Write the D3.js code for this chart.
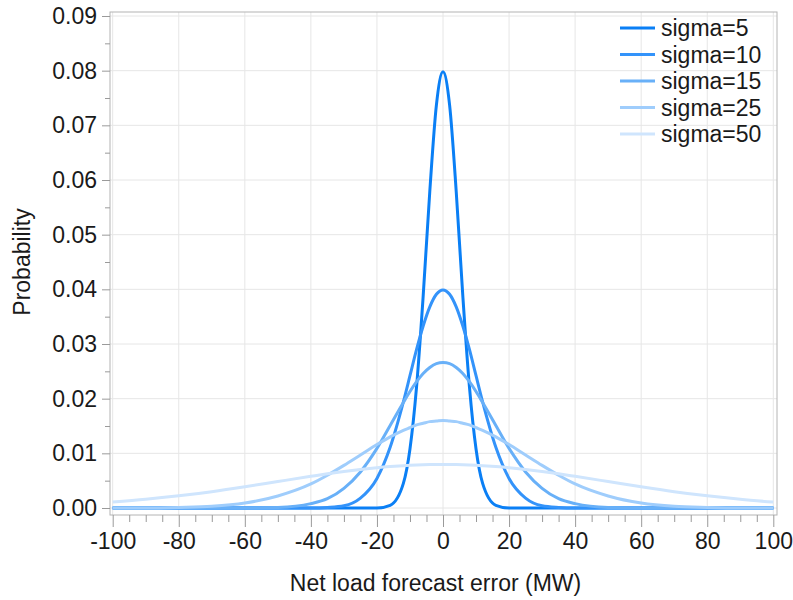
<!DOCTYPE html>
<html>
<head>
<meta charset="utf-8">
<script src="https://d3js.org/d3.v7.min.js"></script>
<style>
  body { margin: 0; background: #fff; }
  text { font-family: "Liberation Sans", Arial, sans-serif; fill: #1a1a1a; }
</style>
</head>
<body>
<div id="chart"></div>
<script>

// x positions (MW) the curves were read at
var errors = [-100,-90,-80,-70,-60,-50,-40,-35,-30,-25,-20,-16,-12,-10,-8,-6,-4,-2,0,
              2,4,6,8,10,12,16,20,25,30,35,40,50,60,70,80,90,100];

// probability values, one array per sigma
var sigma5 = [0,0,0,0,0,0,0,0,0,0,0.0000,0.0005,0.0045,0.0108,0.0222,0.0388,0.0579,0.0737,0.0798,
              0.0737,0.0579,0.0388,0.0222,0.0108,0.0045,0.0005,0.0000,0,0,0,0,0,0,0,0,0,0];
var sigma10 = [0,0,0,0,0,0,0.0000,0.0001,0.0004,0.0018,0.0054,0.0111,0.0194,0.0242,0.0290,0.0333,0.0368,0.0391,0.0399,
               0.0391,0.0368,0.0333,0.0290,0.0242,0.0194,0.0111,0.0054,0.0018,0.0004,0.0001,0.0000,0,0,0,0,0,0];
var sigma15 = [0,0,0,0,0.0000,0.0001,0.0008,0.0017,0.0036,0.0066,0.0109,0.0151,0.0193,0.0213,0.0231,0.0246,0.0257,0.0264,0.0266,
               0.0264,0.0257,0.0246,0.0231,0.0213,0.0193,0.0151,0.0109,0.0066,0.0036,0.0017,0.0008,0.0001,0.0000,0,0,0,0];
var sigma25 = [0.0000,0.0000,0.0001,0.0003,0.0009,0.0022,0.0044,0.0060,0.0078,0.0097,0.0116,0.0130,0.0142,0.0147,0.0152,0.0155,0.0158,0.0159,0.0160,
               0.0159,0.0158,0.0155,0.0152,0.0147,0.0142,0.0130,0.0116,0.0097,0.0078,0.0060,0.0044,0.0022,0.0009,0.0003,0.0001,0.0000,0.0000];
var sigma50 = [0.00108,0.00158,0.00222,0.00299,0.00388,0.00484,0.00579,0.00625,0.00666,0.00704,0.00737,0.00758,0.00775,0.00782,0.00788,0.00792,0.00795,0.00797,0.00798,
               0.00797,0.00795,0.00792,0.00788,0.00782,0.00775,0.00758,0.00737,0.00704,0.00666,0.00625,0.00579,0.00484,0.00388,0.00299,0.00222,0.00158,0.00108];

var seriesNames = ["sigma=5", "sigma=10", "sigma=15", "sigma=25", "sigma=50"];
var seriesValues = [sigma5, sigma10, sigma15, sigma25, sigma50];
var colors = ["#0a7ff5", "#3393fa", "#68b0f8", "#9fcdfc", "#cfe5fd"];

var xTicks = [-100,-80,-60,-40,-20,0,20,40,60,80,100];
var yTicks = [0,0.01,0.02,0.03,0.04,0.05,0.06,0.07,0.08,0.09];

var W = 793, H = 600;
var frame = {left: 110, right: 777, top: 12, bottom: 515};

var svg = d3.select("#chart").append("svg")
    .attr("width", W)
    .attr("height", H);

var x = d3.scaleLinear().domain([-100, 100]).range([112.7, 773.3]);
var y = d3.scaleLinear().domain([0, 0.09]).range([508, 16]);

// grid
svg.append("g").selectAll("line.gx")
  .data(xTicks).enter().append("line")
    .attr("x1", d => x(d)).attr("x2", d => x(d))
    .attr("y1", frame.top).attr("y2", frame.bottom)
    .attr("stroke", "#e6e6e6").attr("stroke-width", 1);

svg.append("g").selectAll("line.gy")
  .data(yTicks).enter().append("line")
    .attr("x1", frame.left).attr("x2", frame.right)
    .attr("y1", d => y(d)).attr("y2", d => y(d))
    .attr("stroke", "#e6e6e6").attr("stroke-width", 1);

// curves
var line = d3.line()
    .x((d, i) => x(errors[i]))
    .y(d => y(d))
    .curve(d3.curveMonotoneX);

svg.append("g").selectAll("path")
  .data(seriesValues).enter().append("path")
    .attr("d", d => line(d))
    .attr("fill", "none")
    .attr("stroke", (d, i) => colors[i])
    .attr("stroke-width", 3);

// frame
svg.append("rect")
    .attr("x", frame.left).attr("y", frame.top)
    .attr("width", frame.right - frame.left)
    .attr("height", frame.bottom - frame.top)
    .attr("fill", "none")
    .attr("stroke", "#b4b4b4")
    .attr("stroke-width", 1);

// x axis (plain hyphen for negatives, like the original)
svg.append("g")
    .attr("transform", "translate(0," + frame.bottom + ")")
    .call(d3.axisBottom(x).tickValues(xTicks).tickSize(12).tickPadding(6).tickFormat(d => String(d)));
svg.append("g")
    .attr("transform", "translate(0," + frame.bottom + ")")
    .call(d3.axisBottom(x).tickValues(d3.range(-95, 100, 5).filter(v => v % 20 != 0)).tickSize(7).tickFormat(""));

// y axis
svg.append("g")
    .attr("transform", "translate(" + frame.left + ",0)")
    .call(d3.axisLeft(y).tickValues(yTicks).tickSize(8).tickPadding(5).tickFormat(d => d.toFixed(2)));
svg.append("g")
    .attr("transform", "translate(" + frame.left + ",0)")
    .call(d3.axisLeft(y).tickValues([0.005,0.015,0.025,0.035,0.045,0.055,0.065,0.075,0.085]).tickSize(5).tickFormat(""));

svg.selectAll(".domain").remove();
svg.selectAll(".tick line").attr("stroke", "#9a9a9a");
svg.selectAll(".tick text")
    .style("font-family", "'Liberation Sans', Arial, sans-serif")
    .style("font-size", "23px")
    .attr("fill", "#1a1a1a");

// axis titles
svg.append("text")
    .attr("x", (frame.left + frame.right) / 2 - 8)
    .attr("y", 591)
    .attr("text-anchor", "middle")
    .style("font-size", "23px")
    .text("Net load forecast error (MW)");

svg.append("text")
    .attr("transform", "translate(30," + 262 + ") rotate(-90)")
    .attr("text-anchor", "middle")
    .style("font-size", "23px")
    .text("Probability");

// legend
var legend = svg.append("g").selectAll("g")
  .data(seriesNames).enter().append("g")
    .attr("transform", (d, i) => "translate(620," + (28 + i * 26.5) + ")");

legend.append("line")
    .attr("x1", 0).attr("x2", 35)
    .attr("y1", 0).attr("y2", 0)
    .attr("stroke", (d, i) => colors[i])
    .attr("stroke-width", 3);

legend.append("text")
    .attr("x", 41)
    .attr("y", 8)
    .style("font-size", "23px")
    .text(d => d);

</script>
</body>
</html>
